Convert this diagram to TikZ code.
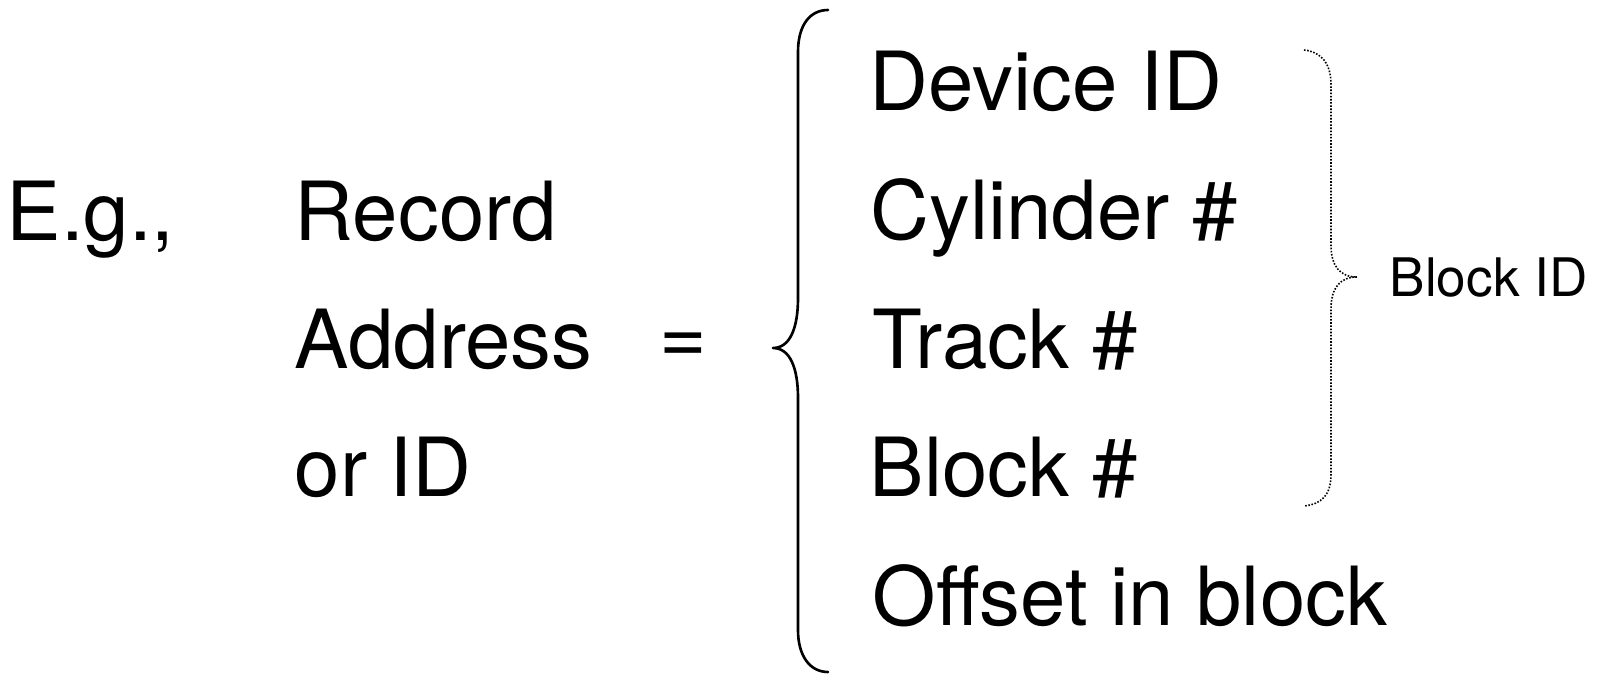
\documentclass[tikz,border=0pt]{standalone}
\usepackage{fontspec}
\setmainfont{TeX Gyre Heros}
\begin{document}
\begin{tikzpicture}[x=0.01cm,y=-0.01cm,
  big/.style={inner sep=0pt, anchor=base west, font=\fontsize{23.2}{27}\selectfont},
  small/.style={inner sep=0pt, anchor=base west, font=\fontsize{15.1}{18}\selectfont},
  solidbrace/.style={line width=0.75pt, line cap=round, line join=round},
  dotbrace/.style={line width=0.45pt, dash pattern=on 0.45pt off 0.45pt}]
\useasboundingbox (0,0) rectangle (1605,675);
% left column
\node[big] (eg) at (6,240) {E.g.,};
\node[big] (rec) at (294,240) {Record};
\node[big] (addr) at (294,368) {Address};
\node[big] (orid) at (294,496) {or ID};
\node[inner sep=0pt, anchor=center, font=\fontsize{23.2}{27}\selectfont] (eq) at (683,348) {=};
% right column
\node[big] (dev) at (869,110) {Device ID};
\node[big] (cyl) at (870,239) {Cylinder \#};
\node[big] (trk) at (872,368) {Track \#};
\node[big] (blk) at (869,496) {Block \#};
\node[big] (off) at (872,625) {Offset in block};
\node[small] (bid) at (1389,296) {Block ID};
% big brace
\draw[solidbrace] (828,10) .. controls (810,10) and (798,25) .. (798,52)
  -- (798,298) .. controls (798,328) and (790,348) .. (773,348)
  .. controls (790,348) and (798,368) .. (798,398)
  -- (798,630) .. controls (798,656) and (810,672) .. (828,672);
% dotted brace
\draw[dotbrace] (1304,50) .. controls (1322,52) and (1331,64) .. (1331,85)
  -- (1331,245) .. controls (1331,266) and (1340,277) .. (1357,277)
  .. controls (1340,277) and (1331,288) .. (1331,309)
  -- (1331,474) .. controls (1331,495) and (1322,504) .. (1304,506);
\end{tikzpicture}
\end{document}
